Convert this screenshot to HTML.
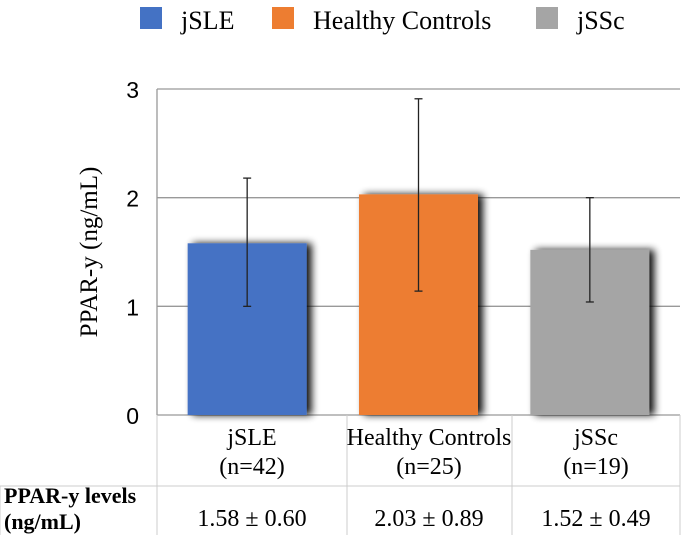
<!DOCTYPE html>
<html><head><meta charset="utf-8"><style>
body{margin:0;background:#fff;width:699px;height:535px;overflow:hidden}
svg{display:block}
.serif{font-family:"Liberation Serif",serif}
.sans{font-family:"Liberation Sans",sans-serif}
</style></head><body>
<svg width="699" height="535">
<defs>
<filter id="sh" x="-20%" y="-10%" width="150%" height="130%">
<feGaussianBlur in="SourceAlpha" stdDeviation="4"/>
<feOffset dx="5" dy="0"/>
<feComponentTransfer><feFuncA type="linear" slope="0.95"/></feComponentTransfer>
<feMerge><feMergeNode/><feMergeNode in="SourceGraphic"/></feMerge>
</filter>
</defs>
<g id="legend"></g>
<g id="grid"></g>
<g id="bars"></g>
<g id="table"></g>
<text class="serif" font-size="25" transform="translate(97,252) rotate(-90)" text-anchor="middle">PPAR-y (ng/mL)</text>
</svg>
<script>
const categories=["jSLE","Healthy Controls","jSSc"];
const nLabels=["(n=42)","(n=25)","(n=19)"];
const means=[1.58,2.03,1.52];
const errLow=[1.0,1.14,1.04];
const errHigh=[2.18,2.91,2.0];
const valueLabels=["1.58 ± 0.60","2.03 ± 0.89","1.52 ± 0.49"];
const ticks=[0,1,2,3];
const colors=["#4472c4","#ed7d31","#a5a5a5"];
const NS="http://www.w3.org/2000/svg";
const x0=157,x1=680,yTop=89,yBot=415,yMax=3;
const y=v=>yBot-(v/yMax)*(yBot-yTop);
const colW=(x1-x0)/categories.length;
function mk(tag,attrs,parent,text){const e=document.createElementNS(NS,tag);for(const k in attrs)e.setAttribute(k,attrs[k]);if(text!=null)e.textContent=text;parent.appendChild(e);return e;}
const grid=document.getElementById('grid');
ticks.forEach(t=>{
 if(t>0){const l=mk('line',{x1:x0,x2:x1,y1:y(t),y2:y(t),stroke:'#999','stroke-width':1.3},grid);
 
 }
 const tx=mk('text',{x:139,y:y(t)+9,'text-anchor':'end','font-size':23,class:'sans'},grid,String(t));
 
 
});
mk('line',{x1:x0,x2:x0,y1:yTop,y2:yBot,stroke:'#999','stroke-width':1.3},grid);
mk('line',{x1:x0,x2:x1,y1:yBot,y2:yBot,stroke:'#999','stroke-width':1.3},grid);
const bars=document.getElementById('bars');
const bw=119;
categories.forEach((c,i)=>{
 const cx=x0+colW*(i+0.5)+(i-1)*-3;
 const r=mk('rect',{x:cx-bw/2,y:y(means[i]),width:bw,height:yBot-y(means[i]),fill:colors[i],filter:'url(#sh)'},bars);
 
 
 const g=mk('g',{stroke:'#222','stroke-width':1.3},bars);
 
 
 mk('line',{x1:cx,x2:cx,y1:y(errLow[i]),y2:y(errHigh[i])},g);
 mk('line',{x1:cx-4,x2:cx+4,y1:y(errLow[i]),y2:y(errLow[i])},g);
 mk('line',{x1:cx-4,x2:cx+4,y1:y(errHigh[i]),y2:y(errHigh[i])},g);
});
const tb=document.getElementById('table');
const seps=[157,347,512,680];
const ls={stroke:'#ccc','stroke-width':1};
seps.forEach(s=>mk('line',Object.assign({x1:s,x2:s,y1:yBot,y2:535},ls),tb));
mk('line',Object.assign({x1:0,x2:680,y1:486,y2:486},ls),tb);
mk('line',Object.assign({x1:0,x2:0,y1:486,y2:535},ls),tb);
const centers=[252,429,596];
categories.forEach((c,i)=>{
 const t=mk('text',{x:centers[i],y:445,'text-anchor':'middle','font-size':24,class:'serif'},tb,c);
 
 
 const n=mk('text',{x:centers[i],y:474,'text-anchor':'middle','font-size':24,class:'serif'},tb,nLabels[i]);
 
 
 const v=mk('text',{x:centers[i],y:526,'text-anchor':'middle','font-size':24,class:'serif'},tb,valueLabels[i]);
 
 
});
const h1=mk('text',{x:4,y:503,'font-size':22,'font-weight':'bold',class:'serif'},tb,'PPAR-y levels');


mk('text',{x:4,y:529,'font-size':22,'font-weight':'bold',class:'serif'},tb,'(ng/mL)');
const lg=document.getElementById('legend');
const lx=[140,272,536];
categories.forEach((c,i)=>{
 const g=mk('g',{},lg);
 
 
 mk('rect',{x:lx[i],y:7,width:22,height:22,fill:colors[i]},g);
 mk('text',{x:lx[i]+41,y:29,'font-size':26,class:'serif'},g,c);
});
</script>
</body></html>
